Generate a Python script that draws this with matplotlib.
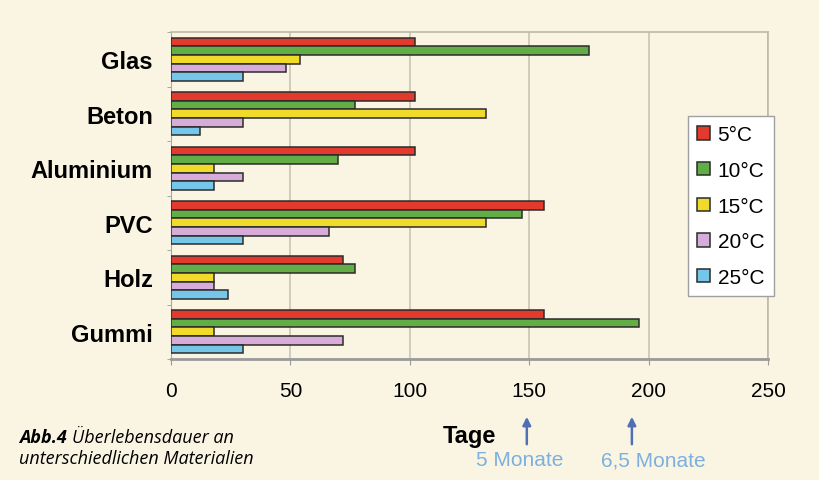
import numpy as np
import matplotlib.pyplot as plt
from matplotlib.transforms import blended_transform_factory

# survival time in days per material and temperature
materials = ["Glas", "Beton", "Aluminium", "PVC", "Holz", "Gummi"]
temps = ["5°C", "10°C", "15°C", "20°C", "25°C"]
days_5 = [102, 102, 102, 156, 72, 156]
days_10 = [175, 77, 70, 147, 77, 196]
days_15 = [54, 132, 18, 132, 18, 18]
days_20 = [48, 30, 30, 66, 18, 72]
days_25 = [30, 12, 18, 30, 24, 30]
series = [days_5, days_10, days_15, days_20, days_25]
colors = ["#e23a2c", "#62ad45", "#f0da2a", "#d7acd9", "#76c6ea"]

month_marks = [149, 193]
month_labels = ["5 Monate", "6,5 Monate"]
month_label_x = [146, 202]

bg = "#faf5e3"
W, H = 820, 481
fig = plt.figure(figsize=(8.2, 4.81), dpi=100, facecolor=bg)
ax = fig.add_axes([171 / W, 1 - 360 / H, 597 / W, 327 / H], facecolor=bg)

y = np.arange(len(materials))
h = 0.158
for i, (vals, c, t) in enumerate(zip(series, colors, temps)):
    ax.barh(y + (i - 2) * h, vals, height=h, color=c,
            edgecolor="#2b2b2b", linewidth=1.1, label=t, zorder=3)

ax.set_xlim(0, 250)
ax.set_ylim(len(materials) - 0.5, -0.5)
ax.set_xticks([0, 50, 100, 150, 200, 250])
ax.set_yticks(y)
ax.set_yticklabels(materials, fontsize=17, fontweight="bold", family="Liberation Sans")
ax.tick_params(axis="y", length=0, pad=13)
ax.set_yticks(np.arange(len(materials) + 1) - 0.5, minor=True)
ax.tick_params(axis="y", which="minor", length=3, color="#999999")
ax.tick_params(axis="x", length=4, color="#999999", pad=12, labelsize=15)
for lab in ax.get_xticklabels():
    lab.set_family("Liberation Sans")

ax.grid(axis="x", color="#c9c5b6", linewidth=1.2, zorder=0)
for s in ["top", "right"]:
    ax.spines[s].set_color("#bdb9aa")
    ax.spines[s].set_linewidth(1.2)
ax.spines["left"].set_color("#a8a8a8")
ax.spines["bottom"].set_color("#9a9a9a")
ax.spines["bottom"].set_linewidth(2)

leg = ax.legend(loc="upper left", bbox_to_anchor=(688 / W, 1 - 117 / H),
                bbox_transform=fig.transFigure, frameon=True,
                fancybox=False, edgecolor="#a0a0a0", facecolor="white",
                handlelength=0.62, handleheight=0.62, labelspacing=0.8,
                handletextpad=0.35, borderpad=0.45, borderaxespad=0,
                prop={"family": "Liberation Sans", "size": 15})
leg.get_frame().set_linewidth(1.0)
leg.get_frame().set_alpha(1)

# x-axis label and month markers below the ticks
fig.text(469 / W, 1 - 437 / H, "Tage", ha="center", va="center",
         fontsize=17, fontweight="bold", family="Liberation Sans")
trans = blended_transform_factory(ax.transData, fig.transFigure)
for val, lab, lx in zip(month_marks, month_labels, month_label_x):
    ax.annotate("", xy=(val, 1 - 415 / H), xytext=(val, 1 - 448 / H),
                xycoords=trans, textcoords=trans, annotation_clip=False,
                arrowprops=dict(arrowstyle="-|>", color="#4f70b5", lw=1.8,
                                mutation_scale=12))
    ax.text(lx, 1 - 461 / H, lab, transform=trans, ha="center", va="center",
            fontsize=15, color="#7db0df", family="Liberation Sans")

# caption
fig.text(19 / W, 1 - 438 / H, "Abb.4", ha="left", va="center",
         fontsize=13, style="italic", fontweight="bold", family="Open Sans")
fig.text(72 / W, 1 - 438 / H, "Überlebensdauer an", ha="left", va="center",
         fontsize=13, style="italic", family="Open Sans")
fig.text(19 / W, 1 - 459 / H, "unterschiedlichen Materialien", ha="left", va="center",
         fontsize=13, style="italic", family="Open Sans")

fig.savefig("out.png", dpi=100, facecolor=bg)
